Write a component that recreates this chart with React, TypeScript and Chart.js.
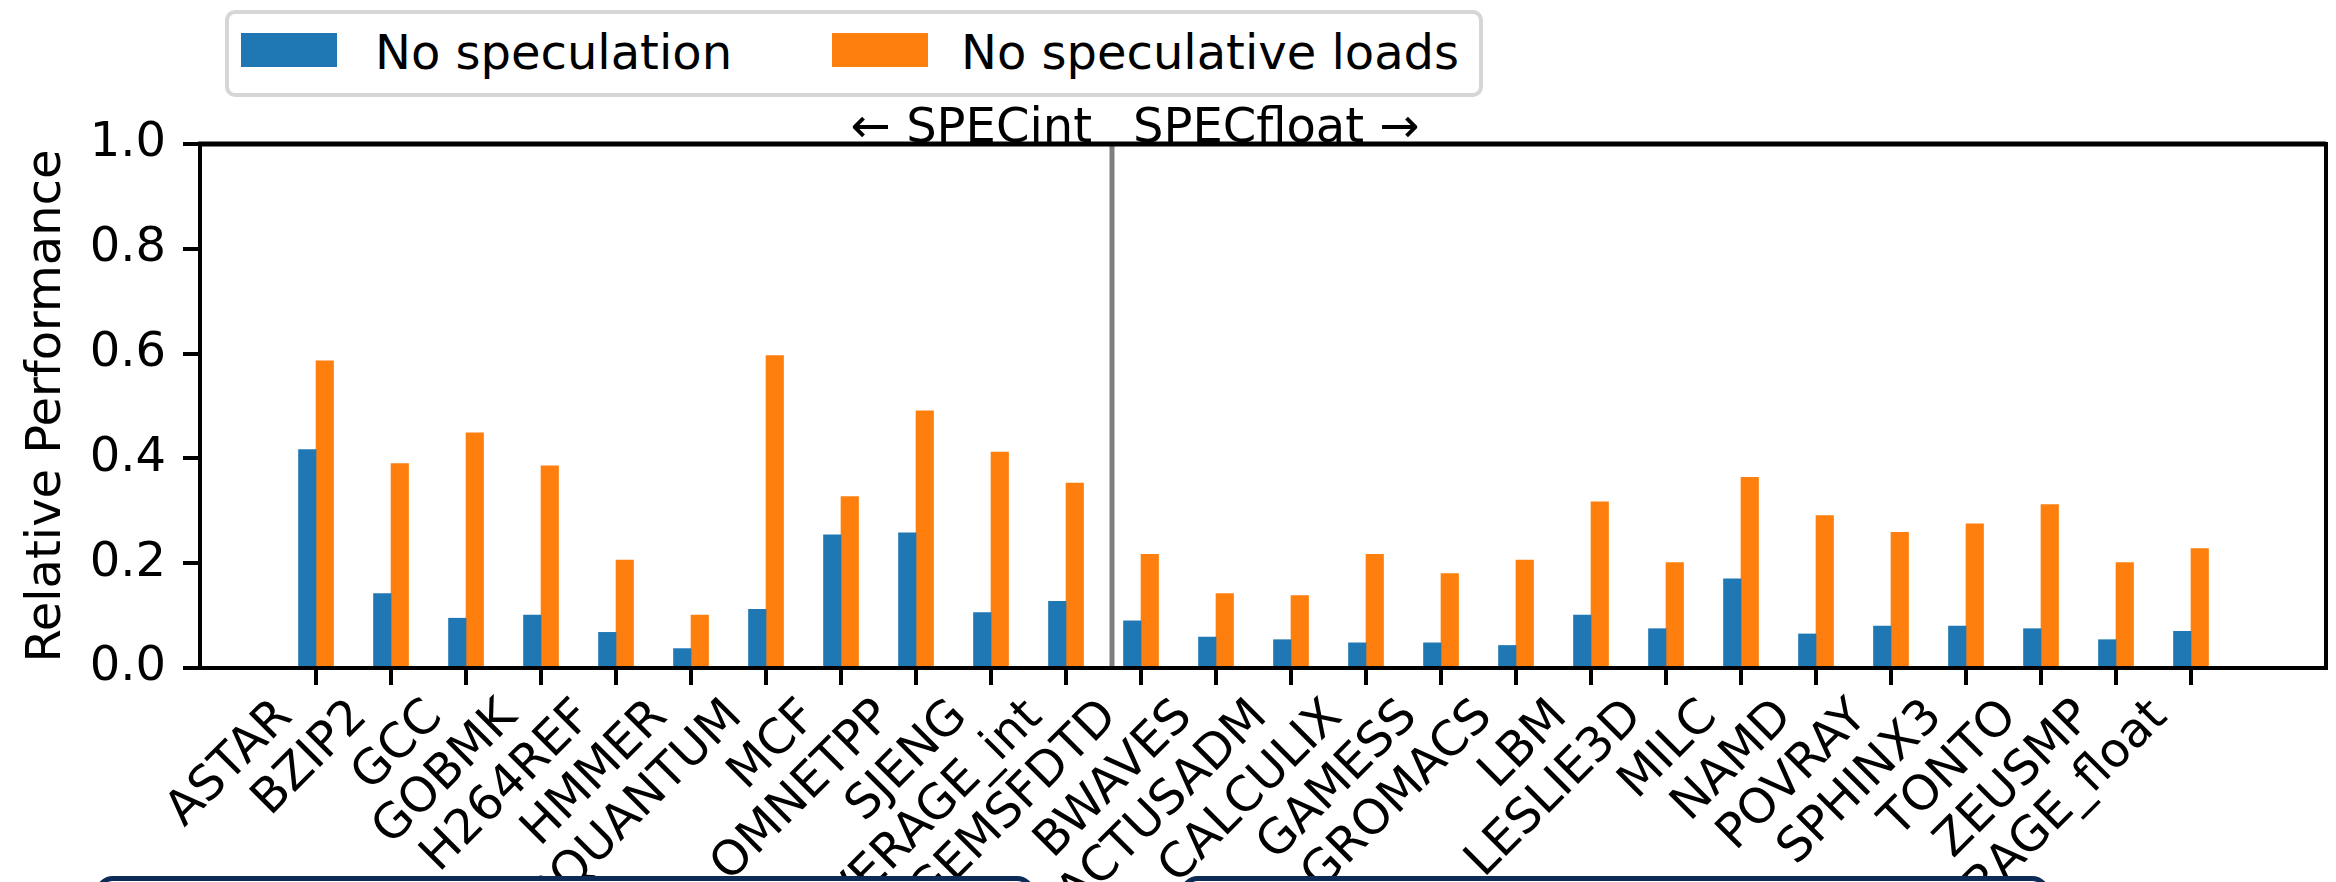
import React, { useEffect, useRef } from 'react';
import { Chart, registerables } from 'chart.js';

Chart.register(...registerables);

const categories = [
  'ASTAR', 'BZIP2', 'GCC', 'GOBMK', 'H264REF', 'HMMER', 'LIBQUANTUM', 'MCF', 'OMNETPP', 'SJENG', 'AVERAGE_int',
  'GEMSFDTD', 'BWAVES', 'CACTUSADM', 'CALCULIX', 'GAMESS', 'GROMACS', 'LBM', 'LESLIE3D', 'MILC', 'NAMD',
  'POVRAY', 'SPHINX3', 'TONTO', 'ZEUSMP', 'AVERAGE_float',
];
const noSpeculation = [
  0.417, 0.142, 0.095, 0.101, 0.068, 0.037, 0.112, 0.254, 0.258, 0.106, 0.127,
  0.090, 0.059, 0.054, 0.048, 0.048, 0.043, 0.101, 0.075, 0.170, 0.065,
  0.080, 0.080, 0.075, 0.054, 0.070,
];
const noSpeculativeLoads = [
  0.586, 0.390, 0.449, 0.386, 0.206, 0.101, 0.596, 0.327, 0.491, 0.412, 0.353,
  0.217, 0.142, 0.138, 0.217, 0.180, 0.206, 0.317, 0.201, 0.364, 0.291,
  0.259, 0.275, 0.312, 0.201, 0.228,
];
const yTickValues = [0, 0.2, 0.4, 0.6, 0.8, 1.0];
const seriesLabels = ['No speculation', 'No speculative loads'];
const seriesColors = ['#1f77b4', '#ff7f0e'];
const groupCaptions = ['\u2190 SPECint', 'SPECfloat \u2192'];
const yAxisTitle = 'Relative Performance';
const dividerAt = 10.613;
const xMin = -1.547;
const xMax = 26.8;

const FONT = '"DejaVu Sans", "Liberation Sans", sans-serif';

const overlayPlugin = {
  id: 'overlay',
  afterDatasetsDraw(chart: any) {
    const { ctx, chartArea: a, scales } = chart;
    const px = scales.x.getPixelForValue(dividerAt);
    ctx.save();
    ctx.strokeStyle = '#7f7f7f';
    ctx.lineWidth = 5;
    ctx.beginPath();
    ctx.moveTo(px, a.top);
    ctx.lineTo(px, a.bottom);
    ctx.stroke();
    ctx.strokeStyle = '#000';
    ctx.lineWidth = 4;
    ctx.beginPath();
    ctx.moveTo(a.left - 2, a.top);
    ctx.lineTo(a.right, a.top);
    ctx.lineTo(a.right, a.bottom + 2);
    ctx.stroke();
    ctx.lineWidth = 5;
    ctx.beginPath();
    ctx.moveTo(a.left - 2, a.top);
    ctx.lineTo(a.right, a.top);
    ctx.stroke();
    ctx.font = '48px ' + FONT;
    ctx.fillStyle = '#000';
    ctx.textBaseline = 'alphabetic';
    ctx.textAlign = 'right';
    ctx.fillText(groupCaptions[0], px - 20, a.top - 2);
    ctx.textAlign = 'left';
    ctx.fillText(groupCaptions[1], px + 21, a.top - 2);
    ctx.restore();
  },
};

export default function App() {
  const ref = useRef<HTMLCanvasElement | null>(null);

  useEffect(() => {
    if (!ref.current) return;
    const tickFont = { family: FONT, size: 48 };
    const chart = new Chart(ref.current, {
      type: 'bar',
      data: {
        datasets: [
          {
            label: seriesLabels[0],
            data: noSpeculation.map((v, i) => ({ x: i, y: v })),
            backgroundColor: seriesColors[0],
            borderWidth: 0,
            barThickness: 17.5,
          },
          {
            label: seriesLabels[1],
            data: noSpeculativeLoads.map((v, i) => ({ x: i, y: v })),
            backgroundColor: seriesColors[1],
            borderWidth: 0,
            barThickness: 17.5,
          },
        ],
      },
      options: {
        responsive: false,
        animation: false,
        devicePixelRatio: 1,
        layout: { padding: { top: 144, right: 10, left: 0, bottom: 0 } },
        plugins: { legend: { display: false }, tooltip: { enabled: false } },
        scales: {
          x: {
            type: 'linear',
            min: xMin,
            max: xMax,
            offset: false,
            afterBuildTicks: (s: any) => {
              s.ticks = categories.map((_, i) => ({ value: i }));
            },
            afterFit: (s: any) => {
              s.height = 214;
            },
            grid: { offset: false, drawOnChartArea: false, drawTicks: true, tickLength: 17, color: '#000', lineWidth: 4 },
            border: { display: true, color: '#000', width: 4, z: 1 },
            ticks: {
              autoSkip: false,
              minRotation: 45,
              maxRotation: 45,
              padding: 4,
              labelOffset: -31,
              color: '#000',
              font: tickFont,
              callback: (v: any) => categories[Math.round(Number(v))] ?? '',
            },
          },
          y: {
            min: 0,
            max: 1,
            afterBuildTicks: (s: any) => {
              s.ticks = yTickValues.map((v) => ({ value: v }));
            },
            afterFit: (s: any) => {
              s.width = 200;
            },
            grid: { offset: false, drawOnChartArea: false, drawTicks: true, tickLength: 17, color: '#000', lineWidth: 4 },
            border: { display: true, color: '#000', width: 4, z: 1 },
            ticks: {
              padding: 17,
              color: '#000',
              font: tickFont,
              callback: (v: any) => Number(v).toFixed(1),
            },
            title: {
              display: true,
              text: yAxisTitle,
              color: '#000',
              font: tickFont,
              padding: { top: 19, bottom: 0 },
            },
          },
        },
      },
      plugins: [overlayPlugin],
    } as any);
    return () => chart.destroy();
  }, []);

  const legendText: React.CSSProperties = {
    position: 'absolute',
    top: 10,
    fontFamily: FONT,
    fontSize: 48,
    lineHeight: '56px',
    color: '#000',
    whiteSpace: 'nowrap',
  };

  return (
    <div style={{ position: 'fixed', left: 0, top: 0, width: 2336, height: 882, overflow: 'hidden', background: '#fff' }}>
      <canvas ref={ref} width={2336} height={882} style={{ position: 'absolute', left: 0, top: 0, width: 2336, height: 882 }} />
      <div
        style={{
          position: 'absolute', left: 225, top: 10, width: 1258, height: 87, boxSizing: 'border-box',
          border: '4px solid #d6d6d6', borderRadius: 10, background: '#fff',
        }}
      >
        <div style={{ position: 'absolute', left: 12, top: 19, width: 96, height: 34, background: seriesColors[0] }} />
        <div style={{ ...legendText, left: 146 }}>{seriesLabels[0]}</div>
        <div style={{ position: 'absolute', left: 603, top: 19, width: 96, height: 34, background: seriesColors[1] }} />
        <div style={{ ...legendText, left: 732 }}>{seriesLabels[1]}</div>
      </div>
      <div style={{ position: 'absolute', left: 95, top: 876, width: 940, height: 80, boxSizing: 'border-box', border: '5px solid #0d2b57', borderRadius: 18, background: '#fff' }} />
      <div style={{ position: 'absolute', left: 1180, top: 876, width: 870, height: 80, boxSizing: 'border-box', border: '5px solid #0d2b57', borderRadius: 18, background: '#fff' }} />
    </div>
  );
}
